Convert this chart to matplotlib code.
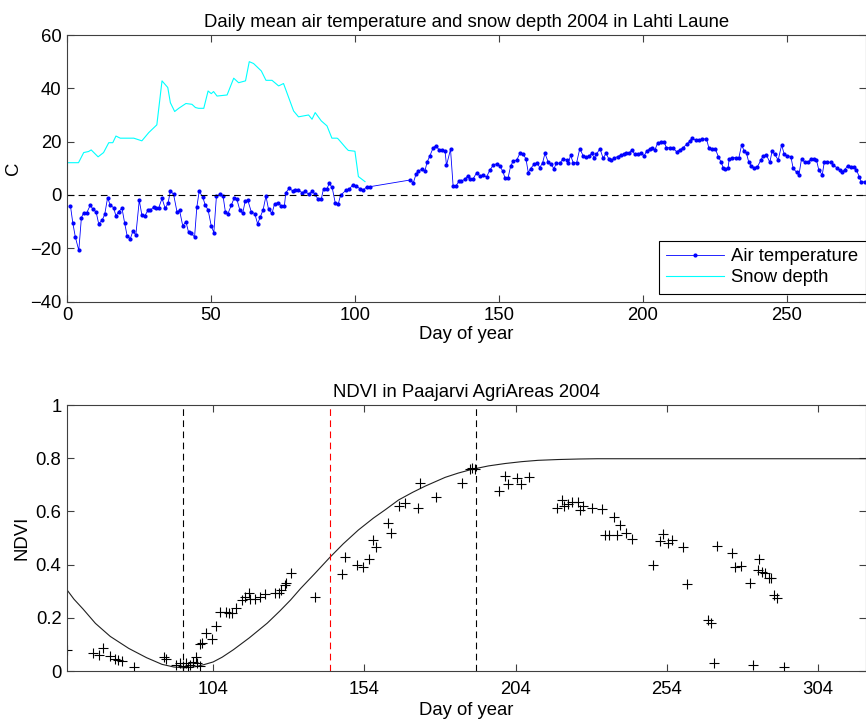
import numpy as np
import matplotlib
matplotlib.use("Agg")
import matplotlib.pyplot as plt

plt.rcParams['font.family'] = ['Liberation Sans', 'DejaVu Sans']

# daily mean air temperature (C), Lahti Laune 2004
temp_day = [1.2, 2.0, 2.9, 4.1, 5.0, 5.8, 6.9, 8.1, 9.0, 10.1, 11.0, 12.2, 13.1, 14.1, 15.0,
            16.2, 17.0, 17.9, 19.1, 20.0, 20.9, 22.0, 22.9, 23.9, 25.1, 26.0, 27.0, 28.1, 28.9,
            30.1, 30.9, 31.8, 33.0, 34.1, 35.1, 35.9, 37.0, 38.2, 39.1, 40.2, 41.3, 42.2, 43.2,
            44.3, 45.1, 45.9, 47.1, 48.0, 49.0, 50.1, 51.0, 51.9, 53.2, 54.2, 55.0, 55.9, 57.1,
            58.0, 59.0, 60.0, 61.0, 61.9, 62.8, 64.0, 65.2, 66.2, 67.1, 68.1, 69.1, 70.0, 71.2,
            72.1, 73.3, 74.4, 75.5, 76.0, 77.2, 78.4, 79.3, 80.4, 81.6, 82.8, 83.9, 85.1, 86.0,
            87.2, 88.3, 89.1, 90.3, 91.1, 92.1, 93.2, 94.2, 95.0, 96.9, 98.0, 99.2, 100.3, 101.7,
            102.9, 104.1, 105.2,
            119.1, 120.3, 121.2, 122.0, 123.2, 124.3, 125.1, 126.0, 127.2, 128.1, 129.3, 130.4,
            131.3, 131.8, 133.2, 134.1, 135.1, 136.2, 137.0, 138.2, 139.1, 139.9, 141.1, 142.3,
            143.4, 144.6, 145.7, 146.9, 148.0, 149.2, 150.3, 151.3, 152.1, 153.2, 154.1, 155.0,
            156.2, 157.3, 158.4, 159.4, 160.2, 161.0, 162.2, 163.3, 164.2, 165.2, 166.0, 167.1,
            168.1, 169.1, 170.0, 171.2, 172.3, 173.5, 174.1, 174.9, 175.8, 177.0, 178.1, 179.3,
            180.4, 181.4, 182.2, 183.1, 183.9, 185.1, 186.2, 187.2, 188.2, 189.1, 190.0, 191.2,
            192.4, 193.5, 194.3, 195.2, 196.1, 197.2, 198.4, 199.3, 200.5, 201.3, 202.4, 203.2,
            204.2, 205.1, 206.3, 207.4, 208.2, 209.4, 210.5, 211.7, 212.8, 214.0, 215.2, 216.3,
            217.1, 218.3, 219.4, 220.6, 222.1, 222.9, 224.1, 225.2, 226.2, 227.1, 227.9, 228.7,
            229.6, 230.0, 231.0, 232.2, 233.3, 234.3, 235.2, 236.0, 236.8, 237.7, 238.6, 239.8,
            241.0, 241.8, 242.9, 244.1, 244.9, 245.8, 247.0, 248.2, 249.1, 250.2, 251.4, 252.2,
            253.4, 254.2, 255.1, 256.3, 257.4, 258.3, 259.5, 260.3, 261.1, 262.3, 263.0, 264.1,
            265.3, 266.1, 267.3, 268.4, 269.2, 270.1, 271.1, 272.2, 273.4, 274.2, 275.1, 275.9,
            277.1]
temp_c = [-4.1, -10.4, -15.8, -20.8, -8.5, -6.6, -6.6, -3.8, -5.4, -6.3, -10.8, -9.5, -7.3, -1.0,
          -3.8, -4.8, -7.9, -6.3, -5.0, -10.4, -15.4, -16.4, -13.5, -15.1, -2.0, -7.5, -7.9, -5.8,
          -5.8, -4.5, -5.0, -5.0, -1.3, -5.0, -3.1, 1.5, 0.3, -6.3, -5.8, -11.6, -10.0, -13.9,
          -14.4, -15.8, -4.5, 1.3, -0.6, -3.8, -5.6, -11.6, -14.1, -0.4, 0.3, -0.4, -6.3, -7.0,
          -3.8, -1.3, -1.6, -5.6, -6.9, -2.3, -2.0, -6.3, -7.0, -10.8, -8.3, -5.6, -0.4, -5.4,
          -6.9, -3.3, -2.9, -4.1, -4.1, 0.9, 2.5, 1.5, 1.8, 1.8, 0.9, 1.3, 0.3, 1.3, 0.5, -1.6,
          -1.6, 2.4, 2.4, 4.3, 2.8, -3.2, -3.5, -0.1, 1.75, 2.1, 3.75, 3.4, 2.4, 1.75, 3.1, 3.1,
          5.6, 4.6, 7.75, 9.0, 9.6, 9.0, 12.4, 14.6, 17.75, 18.4, 16.9, 16.9, 16.5, 11.1, 17.1,
          3.4, 3.4, 5.25, 5.25, 5.9, 7.1, 5.9, 6.1, 8.4, 7.1, 7.4, 6.75, 9.4, 11.1, 11.75, 10.9,
          9.0, 6.5, 6.5, 10.9, 12.75, 13.1, 15.6, 15.25, 13.6, 8.4, 9.9, 11.5, 12.1, 10.25, 12.1,
          15.6, 12.4, 11.5, 9.9, 11.9, 11.9, 13.6, 13.1, 11.9, 14.9, 12.1, 12.1, 17.4, 14.6, 14.4,
          14.6, 15.6, 14.0, 15.25, 17.4, 13.75, 15.6, 13.5, 13.1, 13.75, 14.4, 15.0, 15.25, 15.9,
          15.6, 16.9, 15.25, 15.25, 15.6, 14.75, 16.5, 17.25, 17.75, 16.9, 19.4, 19.75, 19.75,
          17.75, 17.75, 17.5, 16.25, 16.9, 17.75, 19.0, 20.25, 21.25, 20.6, 20.6, 21.0, 21.0,
          17.75, 17.25, 17.25, 14.4, 12.5, 10.25, 9.75, 10.25, 13.5, 14.0, 14.0, 13.75, 18.75,
          16.5, 15.6, 12.25, 11.0, 10.25, 10.6, 13.1, 14.75, 15.0, 12.25, 16.5, 15.25, 13.1,
          18.75, 15.25, 14.75, 14.4, 10.0, 8.5, 7.5, 13.5, 12.25, 12.25, 13.5, 13.5, 13.1, 9.4,
          7.5, 12.25, 12.25, 12.25, 11.25, 10.25, 9.4, 8.75, 9.4, 11.0, 10.6, 10.6, 9.4, 6.9,
          4.75, 5.0]

# snow depth (cm)
snow_day = [0.5, 4.0, 5.8, 7.5, 8.4, 10.8, 12.7, 14.5, 15.9, 17.0, 18.5, 23.2, 26.0, 28.4, 31.2,
            33.0, 35.0, 35.9, 37.4, 38.8, 41.3, 43.4, 44.6, 45.7, 47.5, 49.0, 50.1, 50.9, 52.1,
            55.6, 57.9, 59.6, 62.0, 63.3, 64.8, 67.5, 69.1, 71.2, 73.5, 75.2, 78.7, 80.4, 83.9,
            85.1, 86.2, 88.3, 90.3, 92.0, 93.8, 94.2, 96.9, 97.7, 100.0, 101.2, 103.5]
snow_cm = [12.1, 12.1, 15.9, 16.3, 16.9, 14.3, 15.9, 19.6, 19.6, 22.1, 21.3, 21.3, 20.3, 23.4,
           26.3, 42.8, 40.3, 34.6, 31.3, 32.5, 34.3, 34.0, 32.8, 32.5, 32.5, 39.0, 38.0, 38.8,
           37.1, 37.5, 43.8, 42.1, 42.8, 50.0, 49.3, 46.5, 43.0, 43.0, 40.9, 41.8, 31.5, 29.3,
           30.0, 28.4, 30.9, 27.8, 25.9, 21.3, 21.3, 21.0, 17.6, 16.7, 16.4, 6.9, 5.0]

# NDVI observations, Paajarvi agricultural areas 2004
ndvi_day = [55.7, 64.4, 66.3, 67.7, 70.0, 71.6, 72.7, 73.8, 77.7,
            87.7, 88.5, 91.6, 93.2, 94.0, 94.9, 95.7, 96.5, 97.3, 98.2, 98.7, 99.5,
            99.5, 100.4, 101.7, 103.7, 104.8, 106.4, 108.3, 109.4, 110.3, 111.4, 113.6, 114.7,
            115.8, 116.3, 117.8, 119.6, 121.1, 124.4, 125.7, 126.6, 127.7, 128.1, 129.6, 137.6,
            146.7, 147.6, 151.5, 153.7, 155.6, 157.0, 157.8, 161.7, 162.8, 165.5, 167.4, 171.6,
            172.4, 177.6, 186.4, 188.9, 189.7, 190.6, 198.5, 200.5, 201.6, 204.4, 205.8, 208.4,
            217.6, 219.4, 220.1, 221.4, 222.7, 224.5, 225.2, 226.3, 229.1, 232.7, 233.5, 234.8,
            236.6, 237.4, 238.5, 240.4, 242.4, 249.5, 251.7, 252.8, 254.5, 255.6, 259.4, 260.5,
            267.7, 268.6, 269.7, 270.5, 275.6, 276.5, 278.5, 281.5, 282.6, 284.3, 284.0, 285.4,
            286.5, 287.6, 288.5, 289.3, 290.4, 292.6]
ndvi_val = [0.08, 0.069, 0.06, 0.085, 0.056, 0.044, 0.041, 0.039, 0.014,
            0.054, 0.044, 0.023, 0.029, 0.019, 0.029, 0.016, 0.023, 0.035, 0.054, 0.031, 0.019,
            0.10, 0.107, 0.144, 0.119, 0.169, 0.223, 0.223, 0.217, 0.217, 0.236, 0.267, 0.279,
            0.294, 0.269, 0.269, 0.279, 0.289, 0.294, 0.294, 0.304, 0.323, 0.332, 0.370, 0.277,
            0.365, 0.43, 0.398, 0.390, 0.42, 0.492, 0.467, 0.558, 0.52, 0.62, 0.63, 0.611,
            0.708, 0.655, 0.705, 0.758, 0.762, 0.758, 0.677, 0.733, 0.703, 0.724, 0.703, 0.73,
            0.611, 0.642, 0.62, 0.628, 0.637, 0.637, 0.605, 0.62, 0.611, 0.608, 0.511, 0.511,
            0.580, 0.511, 0.549, 0.520, 0.495, 0.398, 0.490, 0.515, 0.480, 0.492, 0.467, 0.327,
            0.192, 0.182, 0.029, 0.470, 0.445, 0.392, 0.395, 0.330, 0.022, 0.420, 0.380, 0.373,
            0.367, 0.348, 0.348, 0.286, 0.274, 0.016]

# fitted NDVI curve
fit_day = [55.7, 58, 61, 65.1, 70, 76.1, 82, 87.1, 91, 94.3, 98, 101, 104, 107, 110.7, 116,
           121.9, 126, 129.6, 132.9, 137.5, 142.4, 147, 152, 157, 161, 165.3, 170, 174.1, 180.7,
           185, 189.5, 195, 200.5, 206, 211.4, 218, 225, 231, 320]
fit_val = [0.305, 0.27, 0.233, 0.179, 0.13, 0.085, 0.05, 0.025, 0.015, 0.012, 0.016, 0.024,
           0.034, 0.052, 0.08, 0.125, 0.18, 0.225, 0.267, 0.31, 0.365, 0.425, 0.478, 0.53,
           0.575, 0.607, 0.643, 0.672, 0.695, 0.728, 0.744, 0.758, 0.771, 0.78, 0.787, 0.792,
           0.795, 0.797, 0.798, 0.798]

# vertical markers: start, mid-point, end of green-up
vline_days = [94.0, 142.5, 190.8]
vline_colors = ['k', 'r', 'k']

fig = plt.figure(figsize=(8.66, 7.22), dpi=100)
ax1 = fig.add_axes([67/866, 1-301.6/722, 799/866, 266.6/722])
ax2 = fig.add_axes([67/866, 1-671/722, 799/866, 266/722])

fs = 13.3

def matlab_axes(ax):
    ax.tick_params(direction='in', top=True, right=True, length=5, labelsize=fs, width=0.8,
                   color='#404040', pad=4)
    for s in ax.spines.values():
        s.set_color('#404040')
        s.set_linewidth(0.8)

# top panel
ax1.plot(temp_day, temp_c, '.-', color='#0000ff', lw=0.6, ms=4, label='Air temperature')
ax1.plot(snow_day, snow_cm, '-', color='#00ffff', lw=0.8, label='Snow depth')
ax1.axhline(0, color='k', ls='--', lw=0.8, dashes=(6, 4))
ax1.set_xlim(0, 277.5)
ax1.set_ylim(-40, 60)
ax1.set_xticks([0, 50, 100, 150, 200, 250])
ax1.set_yticks([-40, -20, 0, 20, 40, 60])
ax1.set_xlabel('Day of year', fontsize=fs, labelpad=1)
ax1.set_ylabel('C', fontsize=fs, labelpad=6)
ax1.set_title('Daily mean air temperature and snow depth 2004 in Lahti Laune', fontsize=fs, pad=6)
leg = ax1.legend(loc='lower right', bbox_to_anchor=(1.0, 0.028), borderaxespad=0, fontsize=fs,
                 fancybox=False, framealpha=1, edgecolor='k', numpoints=1, handlelength=3.1,
                 handletextpad=0.4, borderpad=0.42, labelspacing=0.22)
leg.get_frame().set_linewidth(0.8)
matlab_axes(ax1)

# bottom panel
ax2.plot(fit_day, fit_val, '-', color='#202020', lw=0.8)
for d, c in zip(vline_days, vline_colors):
    ax2.axvline(d, color=c, ls='--', lw=0.8, dashes=(6, 4))
ax2.plot(ndvi_day, ndvi_val, '+', color='k', ms=7.5, mew=0.8)
ax2.set_xlim(55.7, 319.8)
ax2.set_ylim(0, 1)
ax2.set_xticks([104, 154, 204, 254, 304])
ax2.set_yticks([0, 0.2, 0.4, 0.6, 0.8, 1])
ax2.set_yticklabels(['0', '0.2', '0.4', '0.6', '0.8', '1'])
ax2.set_xlabel('Day of year', fontsize=fs, labelpad=3)
ax2.set_ylabel('NDVI', fontsize=fs, labelpad=4)
ax2.set_title('NDVI in Paajarvi AgriAreas 2004', fontsize=fs, pad=6)
matlab_axes(ax2)
ax2.tick_params(axis='x', pad=7)

fig.savefig('out.png', dpi=100)
